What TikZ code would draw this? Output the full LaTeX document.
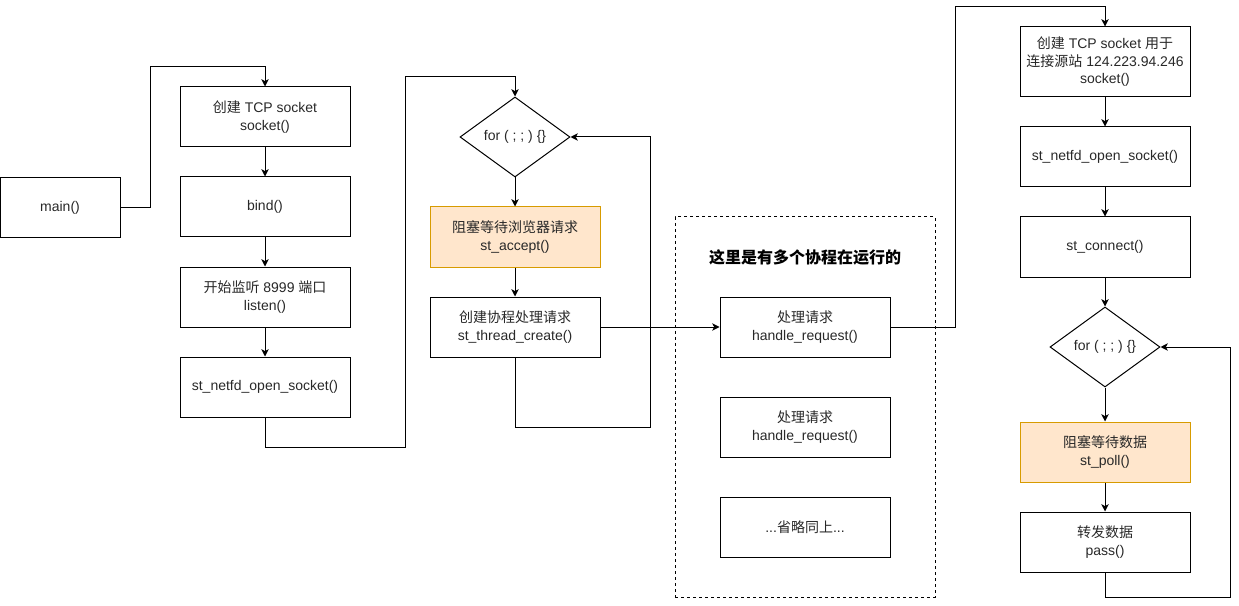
\documentclass[tikz,border=0pt]{standalone}
\usepackage{fontspec}
\setmainfont{Liberation Sans}
\newfontfamily\cjk{Noto Sans CJK SC}
\usetikzlibrary{shapes.geometric,arrows.meta}
\definecolor{txt}{RGB}{40,40,40}
\definecolor{orfill}{HTML}{FFE6CC}
\definecolor{orline}{HTML}{D79B00}
\tikzset{
  box/.style={draw, line width=0.75pt, minimum width=127.5pt, minimum height=45pt, inner sep=0pt,
    align=center, text=txt, font=\fontsize{10.5}{13.1}\selectfont},
  hot/.style={box, fill=orfill, draw=orline},
  dia/.style={draw, diamond, line width=0.75pt, minimum width=82.5pt, minimum height=60pt, inner sep=0pt,
    align=center, text=txt, font=\fontsize{10.5}{13.1}\selectfont},
  arr/.style={draw, line width=0.75pt, -{Stealth[length=5.5pt,width=5.5pt,inset=1.5pt]}},
  ln/.style={draw, line width=0.75pt},
}
\begin{document}
\begin{tikzpicture}[x=0.75pt,y=-0.75pt]
\path[use as bounding box] (0,0) rectangle (1239,606);
% left column
\node[box, minimum width=90pt] (main) at (60,207.5) {main()};
\node[box] (sock) at (265,117) {{\cjk 创建} TCP socket\\socket()};
\node[box] (bind) at (265,207) {bind()};
\node[box] (listen) at (265,297) {{\cjk 开始监听} 8999 {\cjk 端口}\\listen()};
\node[box] (net1) at (265,387) {st\_netfd\_open\_socket()};
% second column
\node[dia] (for1) at (515,137) {for ( ; ; ) \{\}};
\node[hot] (acc) at (515,237) {{\cjk 阻塞等待浏览器请求}\\st\_accept()};
\node[box] (tc) at (515,327) {{\cjk 创建协程处理请求}\\st\_thread\_create()};
% group
\node[draw, dashed, dash pattern=on 2.25pt off 2.25pt, line width=0.75pt, minimum width=195pt, minimum height=285pt, inner sep=0pt] (grp) at (805,407) {};
\node[text=black, font=\fontsize{12}{14}\selectfont\cjk\bfseries] (title) at (805,257) {这里是有多个协程在运行的};
\node[box] (h1) at (805,327) {{\cjk 处理请求}\\handle\_request()};
\node[box] (h2) at (805,427) {{\cjk 处理请求}\\handle\_request()};
\node[box] (om) at (805,527) {...{\cjk 省略同上}...};
% right column
\node[box, minimum height=52.5pt] (sock2) at (1105,62) {{\cjk 创建} TCP socket {\cjk 用于}\\{\cjk 连接源站} 124.223.94.246\\socket()};
\node[box] (net2) at (1105,157) {st\_netfd\_open\_socket()};
\node[box] (conn) at (1105,247) {st\_connect()};
\node[dia] (for2) at (1105,347) {for ( ; ; ) \{\}};
\node[hot] (poll) at (1105,452) {{\cjk 阻塞等待数据}\\st\_poll()};
\node[box] (pass) at (1105,542) {{\cjk 转发数据}\\pass()};
% helper coordinates
\coordinate (c1) at (405,447);
\coordinate (l1) at (650,427);
\coordinate (c3) at (955,327);
\coordinate (l2) at (1230,597);
% connectors
\draw[arr] (main.east) -- ++(30,0) |- ([yshift=15pt]sock.north) -- (sock.north);
\draw[arr] (sock) -- (bind);
\draw[arr] (bind) -- (listen);
\draw[arr] (listen) -- (net1);
\draw[arr] (net1.south) |- (c1) |- ([yshift=15pt]for1.north) -- (for1.north);
\draw[arr] (for1.south) -- (acc.north);
\draw[arr] (acc) -- (tc);
\draw[arr] (tc.south) |- (l1) |- (for1.east);
\draw[arr] (tc.east) -- (h1.west);
\draw[arr] (h1.east) -- (c3) |- ([yshift=15pt]sock2.north) -- (sock2.north);
\draw[arr] (sock2) -- (net2);
\draw[arr] (net2) -- (conn);
\draw[arr] (conn.south) -- (for2.north);
\draw[arr] (for2.south) -- (poll.north);
\draw[arr] (poll) -- (pass);
\draw[arr] (pass.south) |- (l2) |- (for2.east);
\end{tikzpicture}
\end{document}
